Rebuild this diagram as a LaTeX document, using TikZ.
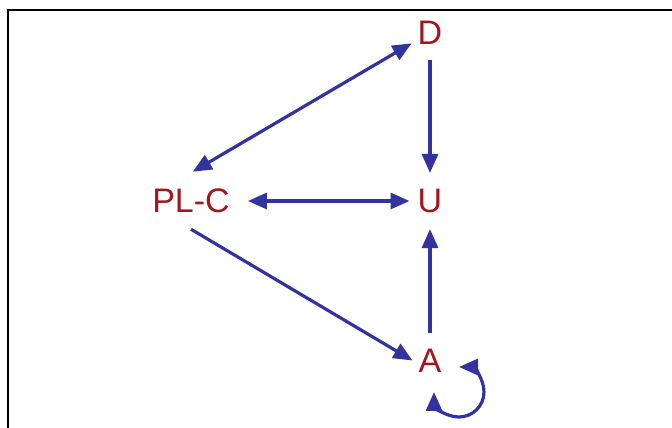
\documentclass[tikz,border=0pt]{standalone}
\usepackage{fontspec}
\setmainfont{Liberation Sans}
\usetikzlibrary{arrows.meta}

\definecolor{linkblue}{RGB}{51,51,160}
\definecolor{labelred}{RGB}{165,20,30}

\begin{document}
\begin{tikzpicture}[x=1pt, y=1pt, >={Triangle[length=19pt,width=16pt]},
    every node/.style={font=\fontsize{34}{40}\selectfont, text=labelred, inner xsep=6pt, inner ysep=16pt},
    link/.style={line width=3.2pt, draw=linkblue, fill=linkblue}]
  \useasboundingbox (0,0) rectangle (672,428);
  \draw[line width=2pt] (8,0) -- (8,418) -- (672,418);

  \node (d) at (430,395.5) {D};
  \node (u) at (430,227) {U};
  \node (a) at (430,67.5) {A};
  \node (plc) at (191,227) {PL-C};

  \draw[link, <->, shorten <=2pt] (plc.north) -- (d);
  \draw[link, ->] (d) -- (u);
  \draw[link, <->, shorten <=12pt, shorten >=2pt] (plc.east) -- (u.west);
  \draw[link, ->] (plc.south) -- (a.west);
  \draw[link, ->] (a) -- (u);

  \coordinate (aloop) at ([shift={(29,-31.5)}]a.center);
  \draw[link, fill=none, <->] ([shift={(180:25)}]aloop) arc[start angle=180, end angle=450, radius=25];
\end{tikzpicture}
\end{document}
